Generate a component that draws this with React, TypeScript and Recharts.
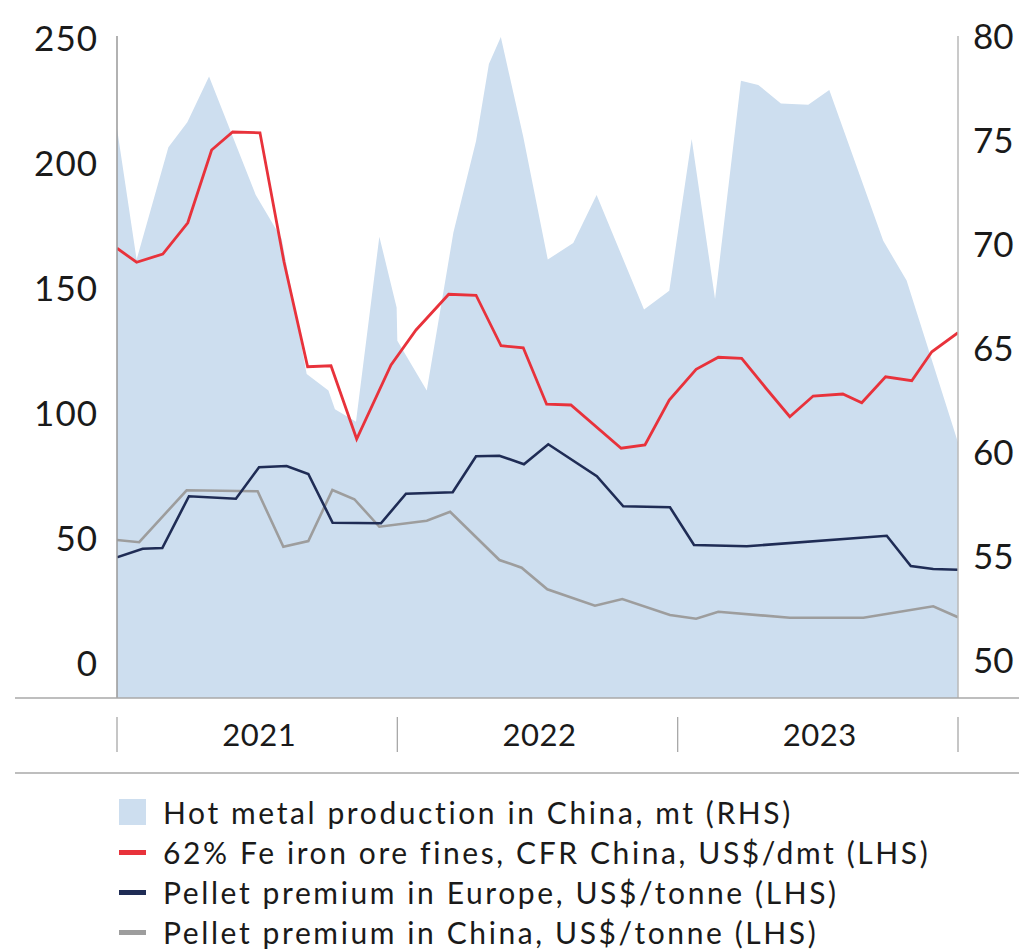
import React from 'react';
import { ComposedChart, Area, Line, XAxis, YAxis, Legend } from 'recharts';

const FONT = 'Lato, "Open Sans", sans-serif';
const TEXT = '#1a1a1a';
const AREA_COLOR = '#cddeef';
const RED = '#e8323b';
const NAVY = '#1f2c55';
const GREY = '#9d9d9d';

// x positions in months since Jan 2021 (0..36)
const hotMetalMonths = [0, 0.84, 2.2, 3.01, 3.94, 5.94, 6.84, 7.05, 8.12, 9.05, 9.33, 10.23, 11.23, 11.97, 12.0, 13.26, 14.4, 15.37, 15.92, 16.43, 17.39, 18.44, 19.53, 20.53, 22.56, 23.64, 24.6, 25.6, 26.71, 27.45, 28.42, 29.59, 30.49, 32.8, 33.8, 36];
const hotMetalValues = [75.6, 69.3, 74.7, 75.9, 78.1, 72.4, 70.7, 70.3, 63.8, 63.0, 62.1, 61.5, 70.4, 67.0, 65.4, 63.0, 70.6, 75.0, 78.7, 80.0, 75.2, 69.3, 70.1, 72.4, 66.9, 67.8, 75.1, 67.4, 77.9, 77.7, 76.8, 76.75, 77.45, 70.2, 68.3, 60.5];

const ironOreMonths = [0, 0.84, 1.96, 3.03, 4.05, 4.95, 6.12, 7.15, 8.16, 9.16, 10.26, 11.73, 12.8, 14.2, 15.37, 16.44, 17.39, 18.39, 19.43, 21.58, 22.6, 23.64, 24.79, 25.74, 26.74, 27.78, 28.8, 29.8, 31.07, 31.88, 32.9, 34.02, 34.88, 36];
const ironOreValues = [166.3, 160.7, 164, 176.5, 205.6, 212.8, 212.5, 160.8, 118.9, 119.3, 90, 119.6, 133.6, 147.9, 147.5, 127.3, 126.5, 103.9, 103.6, 86.3, 87.6, 105.6, 117.9, 122.7, 122.3, 110.3, 98.9, 107.2, 108, 104.5, 114.9, 113.3, 124.9, 132.5];

const europeMonths = [0, 1.1, 1.94, 3.08, 5.09, 6.08, 7.26, 8.19, 9.23, 11.3, 12.37, 14.37, 15.37, 16.37, 17.42, 18.46, 20.54, 21.67, 23.67, 24.7, 26.96, 32.95, 33.98, 34.94, 36];
const europeValues = [42.7, 46.1, 46.4, 67.1, 66.1, 78.7, 79.2, 76, 56.5, 56.3, 68.1, 68.7, 83.1, 83.3, 79.9, 87.9, 75.1, 63.1, 62.7, 47.6, 47.1, 51.3, 39.2, 38, 37.7];

const chinaMonths = [0, 0.95, 2.98, 6.02, 7.12, 8.19, 9.22, 10.16, 11.23, 13.26, 14.26, 16.37, 17.32, 18.42, 20.46, 21.63, 23.67, 24.79, 25.74, 28.8, 31.95, 34.94, 36];
const chinaValues = [49.6, 48.7, 69.5, 69.1, 46.9, 49.2, 69.6, 65.9, 54.9, 57.3, 60.9, 41.6, 38.5, 29.9, 23.3, 26, 19.6, 18.1, 20.9, 18.5, 18.5, 23.1, 18.7];

const yearLabels = ['2021', '2022', '2023'];
const yearBoundaries = [0, 12, 24, 36];
const yearCenters = [6, 18, 30];
const leftTicks = [0, 50, 100, 150, 200, 250];
const rightTicks = [50, 55, 60, 65, 70, 75, 80];

const seriesNames = [
  'Hot metal production in China, mt (RHS)',
  '62% Fe iron ore fines, CFR China, US$/dmt (LHS)',
  'Pellet premium in Europe, US$/tonne (LHS)',
  'Pellet premium in China, US$/tonne (LHS)',
];

const toPoints = (xs: number[], ys: number[]) => xs.map((x, i) => ({ x, v: ys[i] }));

const hotMetalData = toPoints(hotMetalMonths, hotMetalValues);
const ironOreData = toPoints(ironOreMonths, ironOreValues);
const europeData = toPoints(europeMonths, europeValues);
const chinaData = toPoints(chinaMonths, chinaValues);

const XTick = (props: any) => {
  const { x, y, payload } = props;
  const v = payload.value;
  if (yearBoundaries.includes(v)) {
    return (
      <g>
        {v === 0 && (
          <>
            <line x1={15} x2={1019} y1={y} y2={y} stroke="#a8a8a8" strokeWidth={1.5} />
            <line x1={15} x2={1019} y1={y + 75} y2={y + 75} stroke="#a8a8a8" strokeWidth={1.5} />
          </>
        )}
        <line x1={x} x2={x} y1={y + 19} y2={y + 54} stroke="#a8a8a8" strokeWidth={1.3} />
      </g>
    );
  }
  const idx = yearCenters.indexOf(v);
  return (
    <text x={x + 2} y={y + 37} dy="0.36em" textAnchor="middle" fontFamily={FONT} fontSize={31} letterSpacing={0.5} fill={TEXT}>
      {yearLabels[idx]}
    </text>
  );
};

const legendMarkers = [
  { color: AREA_COLOR, h: 26 },
  { color: RED, h: 5 },
  { color: NAVY, h: 5 },
  { color: GREY, h: 5 },
];

const LegendContent = () => (
  <div style={{ fontFamily: FONT, fontSize: 30, color: TEXT, letterSpacing: '2.6px' }}>
    {seriesNames.map((name, i) => (
      <div key={name} style={{ display: 'flex', alignItems: 'center', height: 40, whiteSpace: 'nowrap' }}>
        <div style={{ width: 27, display: 'flex', alignItems: 'center', justifyContent: 'center' }}>
          <div style={{ width: 27, height: legendMarkers[i].h, background: legendMarkers[i].color }} />
        </div>
        <span style={{ marginLeft: 17 }}>{name}</span>
      </div>
    ))}
  </div>
);

export default function App() {
  return (
    <div style={{ position: 'absolute', left: 0, top: 0, width: 1019, height: 949, background: '#fff' }}>
      <ComposedChart width={1019} height={949} margin={{ top: 36, right: 0, bottom: 0, left: 0 }}>
        <XAxis
          xAxisId="x"
          type="number"
          dataKey="x"
          domain={[0, 36]}
          ticks={[0, 6, 12, 18, 24, 30, 36]}
          interval={0}
          height={251}
          axisLine={false}
          tickLine={false}
          tickSize={0}
          tickMargin={0}
          tick={<XTick />}
          allowDataOverflow
        />
        <YAxis
          yAxisId="left"
          orientation="left"
          width={117}
          domain={[-13.6, 251.2]}
          ticks={leftTicks}
          interval={0}
          allowDataOverflow
          axisLine={{ stroke: '#999999', strokeWidth: 1.5 }}
          tickLine={false}
          tickSize={0}
          tickMargin={19}
          tick={{ fontFamily: FONT, fontSize: 35, fill: TEXT, letterSpacing: 1 }}
        />
        <YAxis
          yAxisId="right"
          orientation="right"
          width={61}
          domain={[48.22, 80.05]}
          ticks={rightTicks}
          interval={0}
          allowDataOverflow
          axisLine={{ stroke: '#b8b8b8', strokeWidth: 1.5 }}
          tickLine={false}
          tickSize={0}
          tickMargin={15}
          tick={{ fontFamily: FONT, fontSize: 35, fill: TEXT, textAnchor: 'start' }}
        />
        <Area
          xAxisId="x"
          yAxisId="right"
          data={hotMetalData}
          dataKey="v"
          type="linear"
          fill={AREA_COLOR}
          fillOpacity={1}
          stroke="none"
          baseValue="dataMin"
          isAnimationActive={false}
          name={seriesNames[0]}
        />
        <Line xAxisId="x" yAxisId="left" data={chinaData} dataKey="v" type="linear" stroke={GREY} strokeWidth={2.6} dot={false} isAnimationActive={false} name={seriesNames[3]} />
        <Line xAxisId="x" yAxisId="left" data={europeData} dataKey="v" type="linear" stroke={NAVY} strokeWidth={2.6} dot={false} isAnimationActive={false} name={seriesNames[2]} />
        <Line xAxisId="x" yAxisId="left" data={ironOreData} dataKey="v" type="linear" stroke={RED} strokeWidth={2.8} dot={false} isAnimationActive={false} name={seriesNames[1]} />
        <Legend
          layout="vertical"
          align="center"
          verticalAlign="middle"
          wrapperStyle={{ top: 792, left: 119, width: 890, height: 160 }}
          content={<LegendContent />}
        />
      </ComposedChart>
    </div>
  );
}
